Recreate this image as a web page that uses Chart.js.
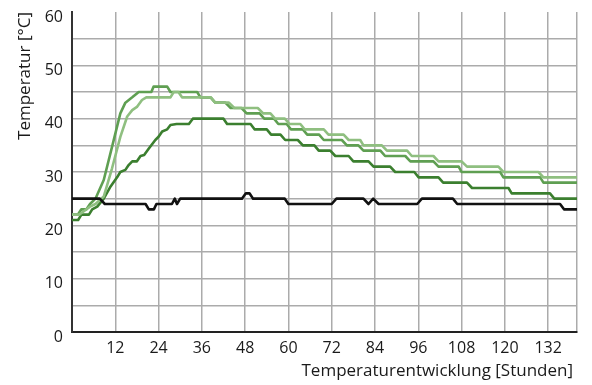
<!DOCTYPE html>
<html><head><meta charset="utf-8">
<script src="https://cdn.jsdelivr.net/npm/chart.js@4/dist/chart.umd.min.js"></script>
<style>html,body{margin:0;padding:0;background:#fff}#wrap{width:592px;height:385px}</style>
</head><body><div id="wrap"><canvas id="c" width="592" height="385"></canvas></div>
<script>
const xTickValues = [0,12,24,36,48,60,72,84,96,108,120,132,140];
const yTickValues = [0,10,20,30,40,50,60];
const xTitle = 'Temperaturentwicklung [Stunden]';
const yTitle = 'Temperatur [°C]';

const blackHours = [0,7.7,9.1,20.4,21.3,22.7,23.4,27.7,28.5,29.1,30,47.1,48.2,49.2,50.2,59,60,72,73.3,80.8,82.2,83.5,85,95.7,97,105.6,106.8,135.3,136.4,140];
const blackTemps = [25,25,24,24,23,23,24,24,25,24,25,25,26,26,25,25,24,24,25,25,24,25,24,24,25,25,24,24,23,23];

const darkHours = [0,1.7,2.6,4.7,5.6,7,8.8,10.7,12.5,13.4,14.8,15.7,16.7,18,19,20,21.3,23.1,24,25,26.4,27.3,29,32.4,33.5,42,43,49.5,50.6,54,55.2,57.8,59.1,62.6,64,67.2,68.4,71.6,73,76.7,78,82.2,83.6,88.2,89.6,94.9,96.1,101.6,102.9,109.5,110.9,121,121.9,132.5,133.7,140];
const darkTemps = [21,21,22,22,23,23.5,25,27.3,29,30,30.4,31.3,32,32,33,33.2,34.4,36,36.6,37.6,38,38.8,39,39,40,40,39,39,38,38,37,37,36,36,35,35,34,34,33,33,32,32,31,31,30,30,29,29,28,28,27,27,26,26,25,25];

const medHours = [0,1.6,2.6,4,5,6.5,8.8,11.1,13.4,14.8,16.7,18.5,22,22.6,26.4,27.3,34.7,35.6,38.4,39.7,42.5,44,47,48.4,52,53.3,56,57.2,59.5,60.7,64,65.2,68.5,69.8,74.8,76.2,79.4,80.8,85.5,86.8,92.4,93.8,100.2,101.6,107.2,108,118.7,119.6,129.8,130.7,140];
const medTemps = [22,22,23,23,24,25,28.5,34.7,41,43,44,45,45,46,46,45,45,44,44,43,43,42,42,41,41,40,40,39,39,38,38,37,37,36,36,35,35,34,34,33,33,32,32,31,31,30,30,29,29,28,28];

const lightHours = [0,2,3,5,6.5,8.8,11.1,13.4,15.3,16.7,18,19.4,20.6,27.3,28.2,29.5,30.5,38.5,39.7,43.5,45,51.5,53,55,56.3,59,60.3,63.3,64.5,69.8,71.1,75.3,76.7,79.9,80.8,85.9,87.3,92.9,94.2,100.2,101.6,108,109.5,118.2,119.6,129.3,130.7,140];
const lightTemps = [22,22,22.5,23.5,24,25.4,30.7,36.6,40.4,41.6,42.2,43.5,44,44,45,45,44,44,43,43,42,42,41,41,40,40,39,39,38,38,37,37,36,36,35,35,34,34,33,33,32,32,31,31,30,30,29,29];

const pts = (hs, ts) => hs.map((h, i) => ({x: h, y: ts[i]}));
const FONT = "'Open Sans', 'DejaVu Sans', sans-serif";

const xTitlePlugin = {
  id: 'xTitlePlugin',
  afterDraw(chart) {
    const ctx = chart.ctx;
    ctx.save();
    ctx.font = "17px " + FONT;
    ctx.fillStyle = '#1a1a1a';
    ctx.textAlign = 'right';
    ctx.textBaseline = 'middle';
    ctx.fillText(xTitle, chart.chartArea.right - 4, 371);
    ctx.restore();
  }
};

new Chart(document.getElementById('c'), {
  type: 'line',
  data: {
    datasets: [
      {data: pts(blackHours, blackTemps), borderColor: '#111111', borderWidth: 2.6},
      {data: pts(lightHours, lightTemps), borderColor: '#8fbf80', borderWidth: 2.6},
      {data: pts(medHours, medTemps), borderColor: '#5f9f52', borderWidth: 2.6},
      {data: pts(darkHours, darkTemps), borderColor: '#3b7f2f', borderWidth: 2.6}
    ]
  },
  plugins: [xTitlePlugin],
  options: {
    responsive: false,
    animation: false,
    devicePixelRatio: 1,
    layout: {padding: {top: 12, right: 15, left: 0, bottom: 0}},
    elements: {point: {radius: 0}, line: {tension: 0, borderJoinStyle: 'round', borderCapStyle: 'round'}},
    plugins: {legend: {display: false}, tooltip: {enabled: false}},
    scales: {
      x: {
        type: 'linear', min: 0, max: 140,
        afterBuildTicks: (axis) => { axis.ticks = xTickValues.map(v => ({value: v})); },
        afterFit: (scale) => { scale.height = 53; scale.paddingLeft = 0; scale.paddingRight = 0; },
        ticks: {
          autoSkip: false, maxRotation: 0, padding: 7, color: '#1a1a1a',
          font: {family: FONT, size: 16},
          callback: (v) => (v === 0 || v === 140) ? '' : String(v)
        },
        grid: {color: '#ababab', lineWidth: 1.5, drawTicks: false},
        border: {color: '#222222', width: 2}
      },
      y: {
        min: 0, max: 60,
        afterBuildTicks: (axis) => {
          const t = [];
          for (let v = 0; v <= 60; v += 5) t.push({value: v});
          axis.ticks = t;
        },
        afterFit: (scale) => { scale.width = 72; scale.paddingTop = 0; scale.paddingBottom = 0; },
        ticks: {
          autoSkip: false, padding: 9, labelOffset: 5, color: '#1a1a1a',
          font: {family: FONT, size: 16},
          callback: (v) => yTickValues.includes(v) ? String(v) : ''
        },
        grid: {
          color: (ctx) => (ctx.tick && ctx.tick.value === 60) ? 'rgba(0,0,0,0)' : '#ababab',
          lineWidth: 1.5, drawTicks: false
        },
        border: {color: '#333333', width: 2},
        title: {display: true, text: yTitle, align: 'end', color: '#1a1a1a',
                font: {family: FONT, size: 17}, padding: {top: 15, bottom: 0}}
      }
    }
  }
});
</script></body></html>
